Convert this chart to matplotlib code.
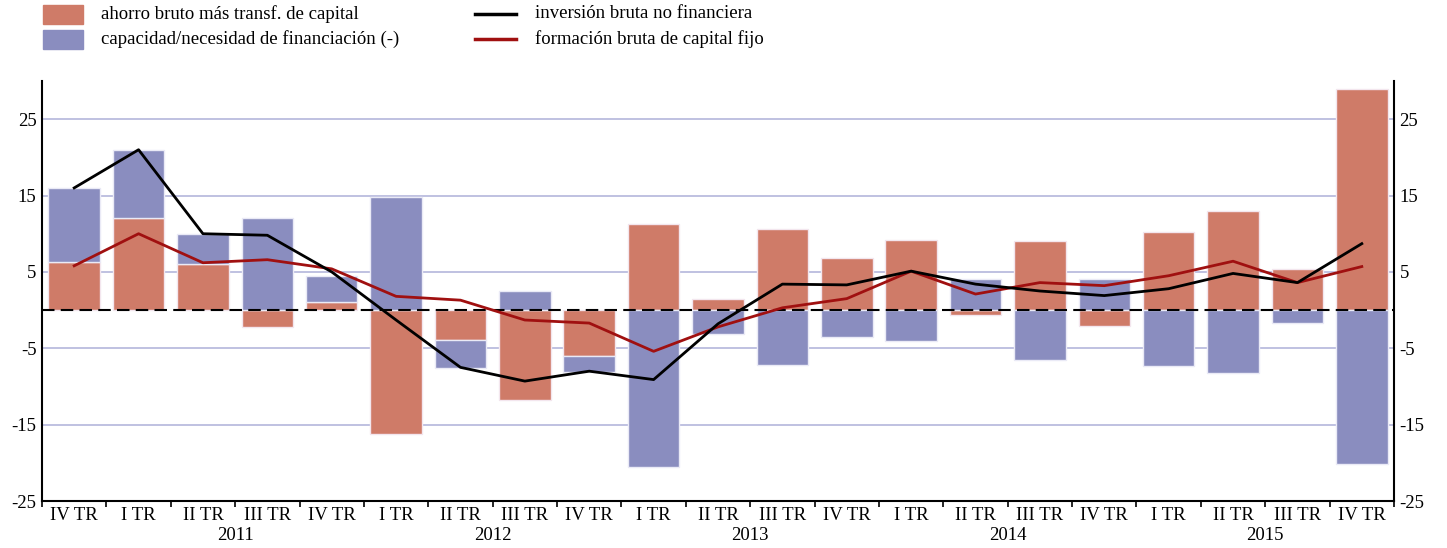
import numpy as np
import matplotlib.pyplot as plt
from matplotlib.patches import Rectangle
from matplotlib.lines import Line2D
from matplotlib.transforms import blended_transform_factory

plt.rcParams['font.family'] = ['Liberation Serif', 'DejaVu Serif']
plt.rcParams['axes.unicode_minus'] = False

# quarters IV TR 2010 .. IV TR 2015
quarters = ['IV TR', 'I TR', 'II TR', 'III TR', 'IV TR',
            'I TR', 'II TR', 'III TR', 'IV TR',
            'I TR', 'II TR', 'III TR', 'IV TR',
            'I TR', 'II TR', 'III TR', 'IV TR',
            'I TR', 'II TR', 'III TR', 'IV TR']
years = ['2011', '2012', '2013', '2014', '2015']

ahorro = [6.3, 12.0, 6.0, -2.2, 1.0,
          -16.2, -3.9, -11.8, -6.0,
          11.3, 1.4, 10.6, 6.8,
          9.2, -0.7, 9.0, -2.1,
          10.2, 13.0, 5.4, 29.0]
capacidad = [9.7, 9.0, 4.0, 12.0, 3.5,
             14.8, -3.7, 2.5, -2.1,
             -20.5, -3.1, -7.2, -3.5,
             -4.1, 4.1, -6.5, 4.1,
             -7.3, -8.2, -1.7, -20.1]
inversion = [16.0, 21.0, 10.0, 9.8, 5.0,
             -1.3, -7.5, -9.3, -8.0,
             -9.1, -1.8, 3.4, 3.3,
             5.1, 3.4, 2.5, 1.9,
             2.8, 4.8, 3.6, 8.7]
fbcf = [5.8, 10.0, 6.2, 6.6, 5.4,
        1.8, 1.3, -1.3, -1.7,
        -5.4, -2.2, 0.3, 1.5,
        5.1, 2.1, 3.6, 3.2,
        4.5, 6.4, 3.6, 5.7]

labels = ['ahorro bruto más transf. de capital',
          'capacidad/necesidad de financiación (-)',
          'inversión bruta no financiera',
          'formación bruta de capital fijo']

c_red = '#cf7b68'
c_blue = '#8a8dbf'
c_grid = '#b4b6dc'
c_line = '#a01010'

a = np.array(ahorro)
c = np.array(capacidad)
# blue stacks on red when both go the same way
bottom = np.where(np.sign(a) == np.sign(c), a, 0)
x = np.arange(len(quarters))

W, H = 1447, 548
fig = plt.figure(figsize=(W / 100, H / 100), dpi=100)
ax = fig.add_axes([42 / W, (H - 501) / H, (1394 - 42) / W, (501 - 81) / H])

ax.bar(x, a, width=0.8, color=c_red, edgecolor='#f3e6ee', linewidth=1, zorder=2)
ax.bar(x, c, bottom=bottom, width=0.8, color=c_blue, edgecolor='#eaeaf6', linewidth=1, zorder=2)
ax.axhline(0, color='black', lw=1.5, ls=(0, (6, 3)), zorder=3)
ax.plot(x, fbcf, color=c_line, lw=2, zorder=4)
ax.plot(x, inversion, color='black', lw=2, zorder=5)

yt = [25, 15, 5, -5, -15, -25]
ax.set_ylim(-25, 30)
ax.set_xlim(-0.5, len(quarters) - 0.5)
ax.set_yticks(yt)
for v in yt[:-1]:
    ax.axhline(v, color=c_grid, lw=1.2, zorder=1)
ax.tick_params(axis='y', length=0, labelsize=13.5, pad=4)
ax.tick_params(axis='y', which='both', right=True, labelright=True)

ax.set_xticks(x)
ax.set_xticklabels(quarters)
ax.set_xticks(np.arange(-0.5, len(quarters), 1), minor=True)
ax.tick_params(axis='x', which='major', length=0, labelsize=13.5, pad=4)
ax.tick_params(axis='x', which='minor', length=4, width=1.2, direction='out')

ax.spines['top'].set_visible(False)
for s in ['left', 'right', 'bottom']:
    ax.spines[s].set_linewidth(1.5)

tr = blended_transform_factory(ax.transData, ax.transAxes)
for i, yr in enumerate(years):
    ax.text(2.5 + 4 * i, -0.083, yr, transform=tr, ha='center', va='center', fontsize=13.5)

# legend drawn in figure pixels
def fx(px):
    return px / W

def fy(py):
    return 1 - py / H

rows = [14, 39]
for py, col, lab in zip(rows, [c_red, c_blue], labels[:2]):
    fig.add_artist(Rectangle((fx(43), fy(py + 9.5)), fx(40), 19 / H,
                             transform=fig.transFigure, color=col))
    fig.text(fx(101), fy(py), lab, ha='left', va='center', fontsize=13.5)
for py, col, lab in zip(rows, ['black', c_line], labels[2:]):
    fig.add_artist(Line2D([fx(475), fx(516)], [fy(py), fy(py)],
                          transform=fig.transFigure, color=col, lw=2.5))
    fig.text(fx(535), fy(py), lab, ha='left', va='center', fontsize=13.5)

fig.savefig('out.png', dpi=100)
